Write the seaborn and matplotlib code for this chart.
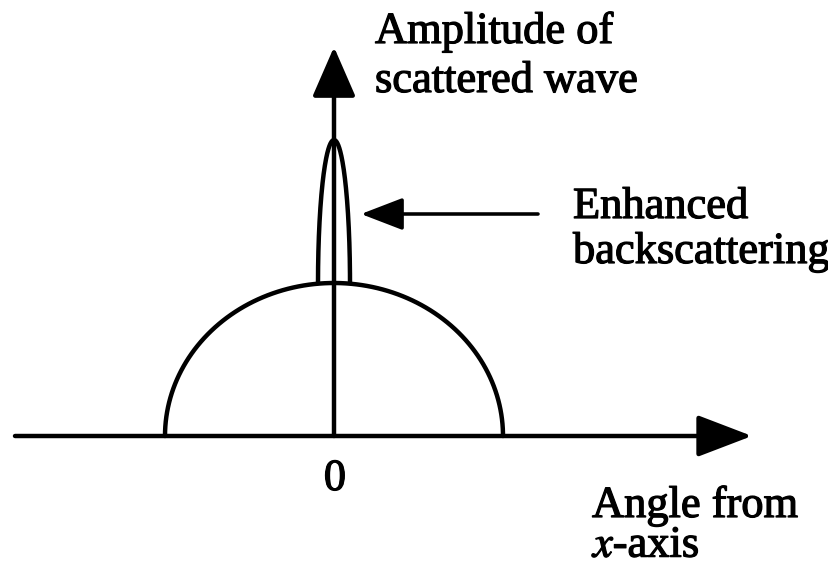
import numpy as np
import pandas as pd
import seaborn as sns
import matplotlib.pyplot as plt
import matplotlib.patheffects as pe

# schematic shape (x = angle, y = amplitude, arbitrary units)
dome_halfwidth = 169
dome_height = 153
peak_halfwidth = 16
peak_top = 296

x_axis_range = [-319, 418]
y_axis_range = [0, 389]
arrow_from = [204, 222]
arrow_to = [27, 222]

axis_label = ["Amplitude of", "scattered wave"]
peak_label = ["Enhanced", "backscattering"]
x_label = ["Angle from", "$x$-axis"]
zero_label = "0"

sns.set_style("white")
plt.rcParams["font.family"] = ["Liberation Serif", "DejaVu Serif"]
plt.rcParams["mathtext.fontset"] = "stix"
plt.rcParams["text.color"] = "black"

t = np.linspace(0, np.pi, 200)
dome = pd.DataFrame({"x": -dome_halfwidth * np.cos(t), "y": dome_height * np.sin(t)})
s = np.linspace(-np.pi / 2, np.pi / 2, 200)
peak = pd.DataFrame({"x": peak_halfwidth * np.sin(s),
                     "y": dome_height + (peak_top - dome_height) * np.cos(s)})

fig = plt.figure(figsize=(8.29, 5.67), dpi=100)
ax = fig.add_axes([0, 0, 1, 1])
lw = 3.2

sns.lineplot(data=dome, x="x", y="y", sort=False, estimator=None, color="black", lw=lw, ax=ax)
sns.lineplot(data=peak, x="x", y="y", sort=False, estimator=None, color="black", lw=lw, ax=ax)

# axes arrows
ax.annotate("", xy=(x_axis_range[1], 0), xytext=(x_axis_range[0], 0),
            arrowprops=dict(arrowstyle="-|>,head_length=3.4,head_width=1.3", color="black",
                            lw=lw, shrinkA=0, shrinkB=0, mutation_scale=10))
ax.annotate("", xy=(0, y_axis_range[1]), xytext=(0, y_axis_range[0]),
            arrowprops=dict(arrowstyle="-|>,head_length=3.1,head_width=1.35", color="black",
                            lw=lw, shrinkA=0, shrinkB=0, mutation_scale=10))
ax.annotate("", xy=arrow_to, xytext=arrow_from,
            arrowprops=dict(arrowstyle="-|>,head_length=2.6,head_width=1.0", color="black",
                            lw=lw * 0.8, shrinkA=0, shrinkB=0, mutation_scale=10))

fs = 32
heavy = [pe.withStroke(linewidth=0.9, foreground="black")]
ax.text(41, 393, axis_label[0], fontsize=fs, va="baseline", path_effects=heavy)
ax.text(41, 344, axis_label[1], fontsize=fs, va="baseline", path_effects=heavy)
ax.text(239, 218, peak_label[0], fontsize=fs, va="baseline", path_effects=heavy)
ax.text(239, 173, peak_label[1], fontsize=fs, va="baseline", path_effects=heavy)
ax.text(1, -54, zero_label, fontsize=fs, va="baseline", ha="center", path_effects=heavy)
ax.text(258, -81, x_label[0], fontsize=fs, va="baseline", path_effects=heavy)
ax.text(259, -121, x_label[1], fontsize=fs, va="baseline", path_effects=heavy)

ax.set_xlim(-334, 495)
ax.set_ylim(-131, 436)
ax.axis("off")

fig.savefig("out.png", dpi=100, facecolor="white")
